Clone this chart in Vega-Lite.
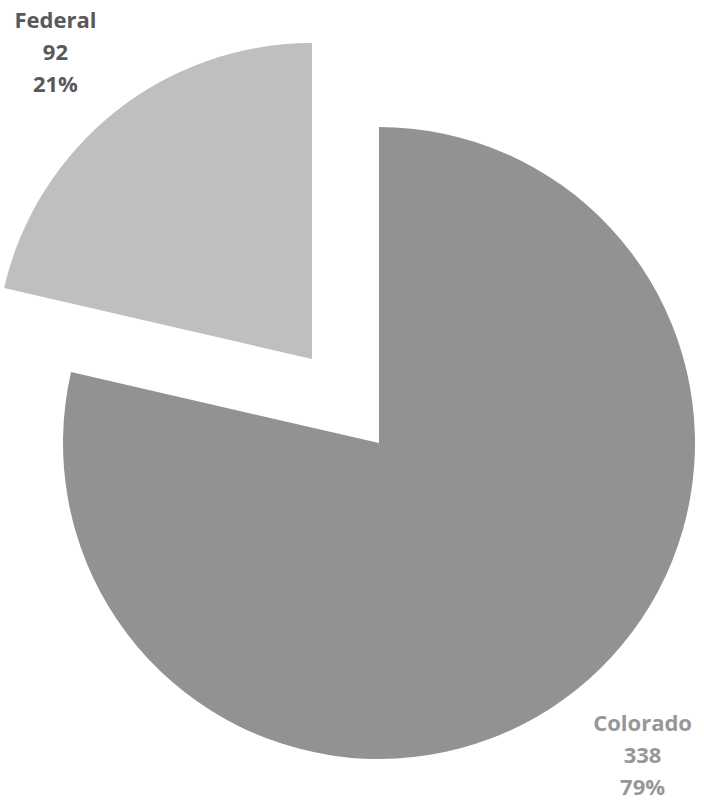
{
  "$schema": "https://vega.github.io/schema/vega-lite/v6.json",
  "width": 650,
  "height": 730,
  "autosize": {"type": "none"},
  "padding": {"left": 54, "right": 0, "top": 78, "bottom": 0},
  "background": "white",
  "view": {"stroke": null},
  "data": {
    "values": [
      {"category": "Colorado", "value": 338},
      {"category": "Federal", "value": 92}
    ]
  },
  "transform": [
    {"joinaggregate": [{"op": "sum", "field": "value", "as": "total"}]},
    {"calculate": "datum.category + '\\n' + datum.value + '\\n' + format(datum.value / datum.total, '.0%')", "as": "label"}
  ],
  "encoding": {
    "theta": {"field": "value", "type": "quantitative", "stack": true},
    "order": {"field": "category", "sort": "ascending"}
  },
  "layer": [
    {
      "mark": {
        "type": "arc",
        "outerRadius": 316,
        "xOffset": {"expr": "datum.category === 'Federal' ? -67 : 0"},
        "yOffset": {"expr": "datum.category === 'Federal' ? -84 : 0"}
      },
      "encoding": {
        "color": {
          "field": "category",
          "type": "nominal",
          "scale": {"domain": ["Colorado", "Federal"], "range": ["#929292", "#bfbfbf"]},
          "legend": null
        }
      }
    },
    {
      "mark": {
        "type": "text",
        "radius": 404,
        "font": "Open Sans",
        "fontWeight": "bold",
        "fontSize": 22,
        "lineHeight": 32,
        "lineBreak": "\n",
        "align": "center",
        "baseline": "middle",
        "dy": -32,
        "xOffset": {"expr": "datum.category === 'Federal' ? -72 : 12"},
        "yOffset": {"expr": "datum.category === 'Federal' ? -74 : -3"}
      },
      "encoding": {
        "detail": {"field": "category", "type": "nominal"},
        "text": {"field": "label", "type": "nominal"},
        "color": {
          "field": "category",
          "type": "nominal",
          "scale": {"domain": ["Colorado", "Federal"], "range": ["#979797", "#595959"]},
          "legend": null
        }
      }
    }
  ],
  "resolve": {"scale": {"color": "independent"}}
}
